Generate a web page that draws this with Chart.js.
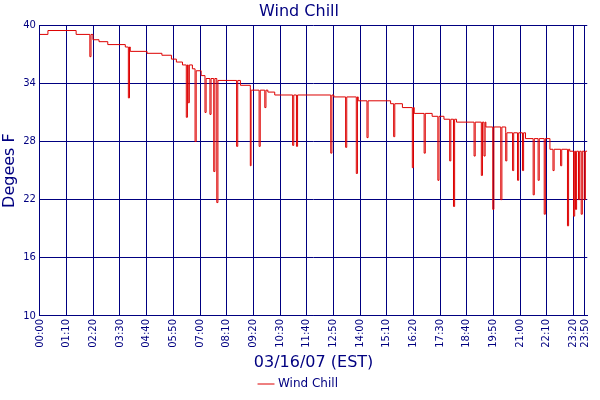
<!DOCTYPE html>
<html>
<head>
<meta charset="utf-8">
<script src="https://cdn.jsdelivr.net/npm/chart.js@4"></script>
<style>
  body { margin: 0; background: #fff; }
  #wrap { width: 600px; height: 400px; }
</style>
</head>
<body>
<div id="wrap"><canvas id="chart"></canvas></div>
<script>
// minutes since midnight, degrees F
const levels = [
  [0, 39.05], [21, 39.45], [95, 39.05], [139, 38.5], [155, 38.3], [178, 38.0],
  [224, 37.75], [237, 37.3], [281, 37.1], [320, 36.9], [345, 36.5], [358, 36.2],
  [374, 35.9], [400, 35.5], [410, 35.3], [423, 34.8], [436, 34.5], [467, 34.3],
  [526, 33.8], [552, 33.6], [554, 33.3], [598, 33.1], [616, 32.8], [771, 32.6],
  [835, 32.2], [920, 31.9], [951, 31.5], [982, 30.9], [1029, 30.6], [1060, 30.3],
  [1093, 30.0], [1170, 29.5], [1222, 28.9], [1274, 28.3], [1338, 27.2], [1390, 27.0],
  [1436, 27.0]
];
const dips = [
  [131, 36.75], [232, 32.5], [384, 30.5], [389, 32], [407, 28], [433, 31], [446, 30.8],
  [456, 24.9], [464, 21.7], [516, 27.5], [552, 25.5], [575, 27.5], [590, 31.5],
  [663, 27.6], [673, 27.5], [763, 26.8], [802, 27.4], [830, 24.7], [858, 28.4],
  [928, 28.5], [977, 25.3], [1008, 26.8], [1044, 24], [1075, 26], [1085, 21.3],
  [1139, 26.5], [1158, 24.5], [1165, 26.5], [1188, 21], [1209, 22], [1222, 26],
  [1240, 25], [1253, 24], [1266, 25], [1294, 22.5], [1307, 24], [1323, 20.5],
  [1346, 25], [1366, 25.5], [1384, 19.3], [1400, 20.3], [1405, 21], [1413, 22],
  [1420, 20.5], [1428, 22]
];
const tickMinutes = [0, 70, 140, 210, 280, 350, 420, 490, 560, 630, 700, 770, 840,
  910, 980, 1050, 1120, 1190, 1260, 1330, 1400, 1430];
const yTicks = [10, 16, 22, 28, 34, 40];

function levelAt(m) {
  let v = levels[0][1];
  for (const [lm, lv] of levels) if (lm <= m) v = lv;
  return v;
}

// merge the step levels with the short downward spikes
const pts = levels.map(([x, y]) => ({ x, y }));
dips.forEach(([m, v]) => {
  pts.push({ x: m, y: v });
  pts.push({ x: m + 3, y: levelAt(m + 3) });
});
pts.sort((a, b) => a.x - b.x);

const navy = '#000080';
const fmt = m => String(Math.floor(m / 60)).padStart(2, '0') + ':' + String(m % 60).padStart(2, '0');

new Chart(document.getElementById('chart'), {
  type: 'line',
  data: {
    datasets: [{
      label: 'Wind Chill',
      data: pts,
      borderColor: '#dd0000',
      backgroundColor: '#dd0000',
      borderWidth: 1,
      pointRadius: 0,
      stepped: true,
      fill: false
    }]
  },
  options: {
    responsive: true,
    maintainAspectRatio: false,
    animation: false,
    layout: { padding: { left: 0, right: 2, top: 2, bottom: 0 } },
    plugins: {
      title: { display: true, text: 'Wind Chill', color: navy,
        font: { family: 'DejaVu Sans', size: 16, weight: 'normal' }, padding: { top: 0, bottom: 4 } },
      legend: { position: 'bottom', labels: { color: navy, usePointStyle: true, pointStyle: 'line',
        boxWidth: 14, font: { family: 'DejaVu Sans', size: 12 }, padding: 4 } },
      tooltip: { enabled: false }
    },
    scales: {
      x: {
        type: 'linear', min: 0, max: 1436,
        afterBuildTicks: axis => { axis.ticks = tickMinutes.map(v => ({ value: v })); },
        ticks: { color: navy, maxRotation: 90, minRotation: 90, autoSkip: false,
          font: { family: 'DejaVu Sans', size: 10 }, callback: v => fmt(v) },
        grid: { color: navy, drawTicks: false },
        border: { color: navy },
        title: { display: true, text: '03/16/07 (EST)', color: navy,
          font: { family: 'DejaVu Sans', size: 16 }, padding: 2 }
      },
      y: {
        min: 10, max: 40,
        afterBuildTicks: axis => { axis.ticks = yTicks.map(v => ({ value: v })); },
        ticks: { color: navy, font: { family: 'DejaVu Sans', size: 10 }, padding: 4 },
        grid: { color: navy, drawTicks: false },
        border: { color: navy },
        title: { display: true, text: 'Degees F', color: navy,
          font: { family: 'DejaVu Sans', size: 16 }, padding: 0 }
      }
    }
  }
});
</script>
</body>
</html>
